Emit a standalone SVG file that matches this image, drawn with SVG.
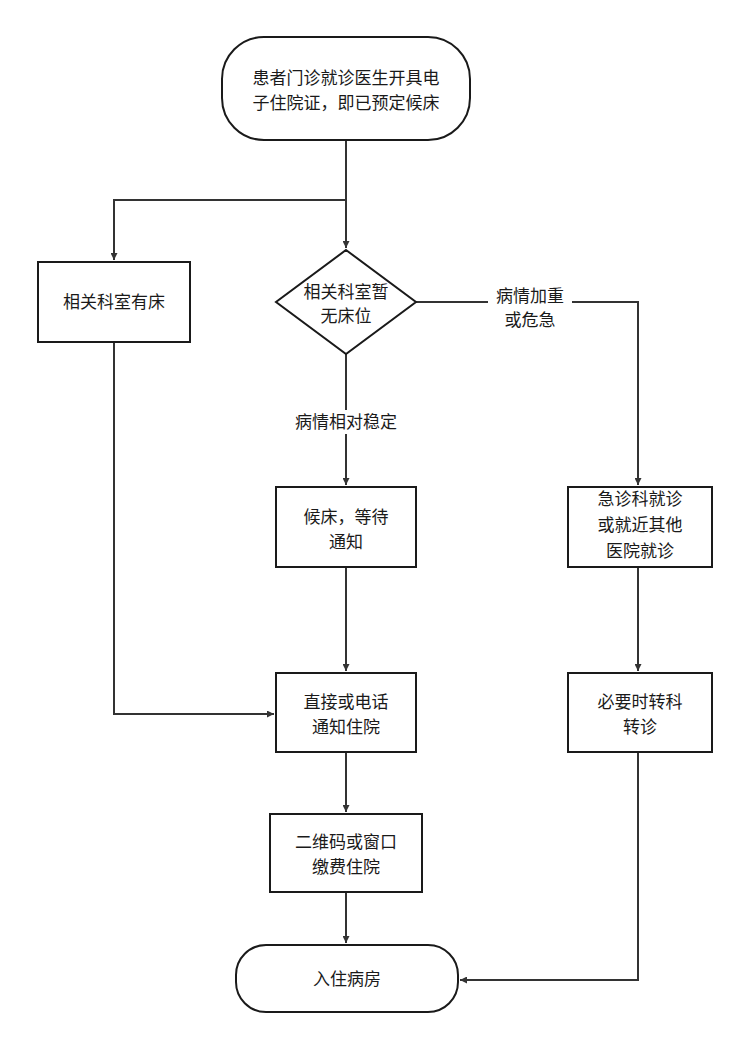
<svg xmlns="http://www.w3.org/2000/svg" width="749" height="1048" viewBox="0 0 749 1048">
<defs>
<marker id="ar" viewBox="0 0 10 10" refX="10" refY="5" markerWidth="7" markerHeight="7" orient="auto" markerUnits="userSpaceOnUse"><path d="M0,0 L10,5 L0,10 z" fill="#333"/></marker>
<style>
.n{fill:#fff;stroke:#1a1a1a;stroke-width:2}
.t{font-family:"Noto Sans CJK SC","Noto Sans",sans-serif;font-size:17px;fill:#1a1a1a;text-anchor:middle}
.c{fill:none;stroke:#333;stroke-width:2;marker-end:url(#ar)}
</style>
</defs>
<rect width="749" height="1048" fill="#fff"/>
<g id="connectors">
<path class="c" d="M346,140 V248"/>
<path class="c" d="M346,200 H114 V260"/>
<path class="c" d="M416,302 H638 V485"/>
<path class="c" d="M346,354 V485"/>
<path class="c" d="M346,567 V671"/>
<path class="c" d="M114,342 V714 H274"/>
<path class="c" d="M638,567 V671"/>
<path class="c" d="M346,752 V812"/>
<path class="c" d="M346,892 V943"/>
<path class="c" d="M638,752 V980 H460"/>
</g>
<g id="lbl1"><rect x="488" y="282" width="84" height="48" fill="#fff"/><text class="t" x="530" y="302">病情加重</text><text class="t" x="530" y="326">或危急</text></g>
<g id="lbl2"><rect x="284" y="410" width="124" height="24" fill="#fff"/><text class="t" x="346" y="428">病情相对稳定</text></g>
<g id="start"><rect class="n" x="222" y="37" width="248" height="103" rx="42"/><text class="t" x="346" y="84">患者门诊就诊医生开具电</text><text class="t" x="346" y="109">子住院证，即已预定候床</text></g>
<g id="left"><rect class="n" x="38" y="262" width="152" height="80"/><text class="t" x="114" y="308">相关科室有床</text></g>
<g id="dia"><path class="n" d="M346,250 L416,302 L346,354 L276,302 z"/><text class="t" x="346" y="298">相关科室暂</text><text class="t" x="346" y="322">无床位</text></g>
<g id="wait"><rect class="n" x="276" y="487" width="140" height="80"/><text class="t" x="346" y="523">候床，等待</text><text class="t" x="346" y="548">通知</text></g>
<g id="er"><rect class="n" x="568" y="487" width="144" height="80"/><text class="t" x="640" y="505">急诊科就诊</text><text class="t" x="640" y="531">或就近其他</text><text class="t" x="640" y="557">医院就诊</text></g>
<g id="notify"><rect class="n" x="276" y="673" width="140" height="79"/><text class="t" x="346" y="708">直接或电话</text><text class="t" x="346" y="733">通知住院</text></g>
<g id="transfer"><rect class="n" x="568" y="673" width="144" height="79"/><text class="t" x="640" y="708">必要时转科</text><text class="t" x="640" y="733">转诊</text></g>
<g id="pay"><rect class="n" x="270" y="814" width="152" height="78"/><text class="t" x="346" y="848">二维码或窗口</text><text class="t" x="346" y="873">缴费住院</text></g>
<g id="end"><rect class="n" x="236" y="945" width="222" height="67" rx="30"/><text class="t" x="347" y="985">入住病房</text></g>
</svg>
